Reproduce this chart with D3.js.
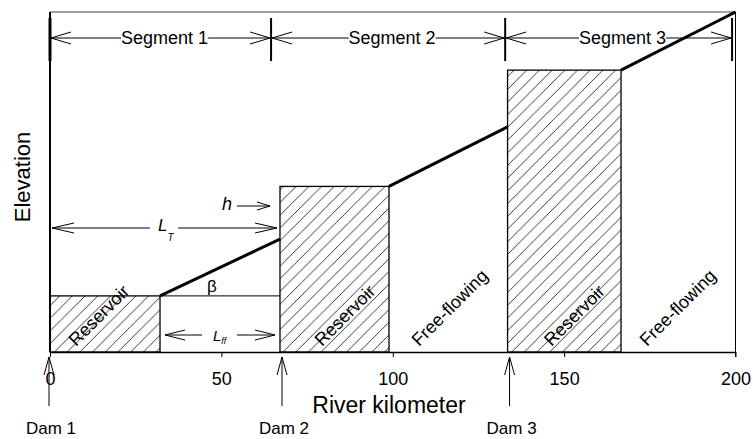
<!DOCTYPE html>
<html><head><meta charset="utf-8">
<script src="https://cdn.jsdelivr.net/npm/d3@7"></script>
<style>
body{margin:0;background:#fff}
svg{display:block}
text{font-family:"Liberation Sans",Arial,sans-serif;fill:#000}
</style>
</head><body>
<svg id="chart" width="753" height="439"></svg>
<script>
// River profile with three dams, their reservoirs and free-flowing reaches
const kmTicks = [0, 50, 100, 150, 200];
const damKm = [0, 67.1, 133.5];
const damNames = ["Dam 1", "Dam 2", "Dam 3"];
const reservoirEndKm = [32.1, 98.9, 166.6];
const reservoirTopElev = [16.5, 48.7, 82.9];
const freeEndKm = [67.1, 133.5, 200];
const freeEndElev = [33.2, 66.2, 100];
const segmentKm = [0, 64.5, 132.8, 199];
const segmentNames = ["Segment 1", "Segment 2", "Segment 3"];
const zoneNames = ["Reservoir", "Free-flowing"];

const svg = d3.select("#chart");
const x = d3.scaleLinear([0, 200], [50, 735.5]);
const y = d3.scaleLinear([0, 100], [352, 12]);

// diagonal hatching for reservoirs
const hs = 12.7;
svg.append("defs").append("pattern")
  .attr("id", "hatch").attr("patternUnits", "userSpaceOnUse")
  .attr("width", hs).attr("height", hs)
  .append("path")
  .attr("d", `M${-hs/2},${hs/2}L${hs/2},${-hs/2}M0,${hs}L${hs},0M${hs/2},${hs*1.5}L${hs*1.5},${hs/2}`)
  .attr("stroke", "#222").attr("stroke-width", 0.9);

// open V arrowhead at (tx,ty) pointing in direction (ux,uy)
function head(g, tx, ty, ux, uy, len, half) {
  const px = -uy, py = ux;
  return g.append("path")
    .attr("d", `M${tx - ux*len + px*half},${ty - uy*len + py*half}L${tx},${ty}L${tx - ux*len - px*half},${ty - uy*len - py*half}`)
    .attr("fill", "none").attr("stroke", "#000").attr("stroke-width", 1);
}
function seg(g, x1, y1, x2, y2, w) {
  return g.append("line").attr("x1", x1).attr("y1", y1).attr("x2", x2).attr("y2", y2)
    .attr("stroke", "#000").attr("stroke-width", w || 1);
}

const g = svg.append("g");

// frame
seg(g, x(0), y(100), x(200), y(100), 1).attr("stroke", "#444");
seg(g, x(200), y(100), x(200), y(0) + 5, 1);

// reservoirs
damKm.forEach((d, i) => {
  g.append("rect")
    .attr("x", x(d)).attr("y", y(reservoirTopElev[i]))
    .attr("width", x(reservoirEndKm[i]) - x(d))
    .attr("height", y(0) - y(reservoirTopElev[i]))
    .attr("fill", "url(#hatch)").attr("stroke", "#000").attr("stroke-width", 1.3);
});

// reference line for the slope angle
seg(g, x(reservoirEndKm[0]), y(reservoirTopElev[0]), x(damKm[1]), y(reservoirTopElev[0]), 1);

// free-flowing river profile
freeEndKm.forEach((e, i) => {
  g.append("line")
    .attr("x1", x(reservoirEndKm[i])).attr("y1", y(reservoirTopElev[i]))
    .attr("x2", x(e)).attr("y2", y(freeEndElev[i]))
    .attr("stroke", "#000").attr("stroke-width", 3);
});

// x axis
const ax = svg.append("g").attr("transform", `translate(0,${y(0)})`)
  .call(d3.axisBottom(x).tickValues(kmTicks).tickSize(5).tickSizeOuter(0).tickPadding(15));
ax.select(".domain").attr("stroke-width", 1.5);
ax.selectAll("text").attr("font-size", 18).attr("font-family", '"Liberation Sans",Arial,sans-serif');

// y axis line
seg(g, x(0), y(100), x(0), y(0), 2);

// axis titles
svg.append("text").attr("x", 389).attr("y", 413).attr("text-anchor", "middle")
  .attr("font-size", 23).text("River kilometer");
svg.append("text").attr("transform", "translate(30,177) rotate(-90)").attr("text-anchor", "middle")
  .attr("font-size", 22).text("Elevation");

// segment spans across the top
const sy = 38;
segmentKm.forEach((k, i) => {
  seg(g, x(k), 18, x(k), 61, i === 0 ? 3 : 2);
});
segmentNames.forEach((name, i) => {
  const x0 = x(segmentKm[i]), x1 = x(segmentKm[i + 1]);
  const t = g.append("text").attr("x", (x0 + x1) / 2 + 4).attr("y", 44)
    .attr("text-anchor", "middle").attr("font-size", 18).text(name);
  const b = t.node().getBBox();
  seg(g, x0, sy, b.x, sy, 1);
  seg(g, b.x + b.width, sy, x1, sy, 1);
  head(g, x0 + 1, sy, -1, 0, 20, 6);
  head(g, x1 - 1, sy, 1, 0, 20, 6);
});

// zone labels inside reservoirs and free-flowing reaches
const zoneOffsets = [[26, 42, 44], [30, 26]];
damKm.forEach((d, i) => {
  g.append("text")
    .attr("transform", `translate(${x(d) + zoneOffsets[0][i]},347) rotate(-45)`)
    .attr("font-size", 18).text(zoneNames[0]);
});
[1, 2].forEach((i, j) => {
  g.append("text")
    .attr("transform", `translate(${x(reservoirEndKm[i]) + zoneOffsets[1][j]},347) rotate(-45)`)
    .attr("font-size", 18).text(zoneNames[1]);
});

// h: dam height marker
const hy = 206;
g.append("text").attr("x", 227).attr("y", 210).attr("text-anchor", "middle")
  .attr("font-size", 18).attr("font-style", "italic").text("h");
seg(g, 237, hy, x(damKm[1]) - 10, hy, 1);
head(g, x(damKm[1]) - 10, hy, 1, 0, 13, 4);

// L_T: segment length
const ly = 228;
seg(g, x(0) + 2, ly, 150, ly, 1);
seg(g, 178, ly, x(damKm[1]) - 3, ly, 1);
head(g, x(0) + 2, ly, -1, 0, 22, 5);
head(g, x(damKm[1]) - 3, ly, 1, 0, 22, 5);
const lt = g.append("text").attr("x", 158).attr("y", 231).attr("font-size", 17).attr("font-style", "italic");
lt.append("tspan").text("L");
lt.append("tspan").attr("font-size", 10).attr("dy", 10).text("T");

// L_ff: free-flowing length
const fy = 335;
seg(g, x(reservoirEndKm[0]) + 5, fy, 202, fy, 1);
seg(g, 237, fy, x(damKm[1]) - 5, fy, 1);
head(g, x(reservoirEndKm[0]) + 5, fy, -1, 0, 20, 5);
head(g, x(damKm[1]) - 5, fy, 1, 0, 20, 5);
const lf = g.append("text").attr("x", 213).attr("y", 341).attr("font-size", 15).attr("font-style", "italic");
lf.append("tspan").text("L");
lf.append("tspan").attr("font-size", 9).attr("dy", 3).text("ff");

// slope angle
g.append("text").attr("x", 212).attr("y", 292).attr("text-anchor", "middle")
  .attr("font-size", 17).attr("font-family", '"Liberation Serif","Times New Roman",serif').text("β");

// dam markers below the axis
const damArrowDx = [-1, 2, 2];
damKm.forEach((d, i) => {
  const ax0 = x(d) + damArrowDx[i];
  seg(g, ax0, 357, ax0, 406, 1);
  head(g, ax0, 357, 0, -1, 18, 5);
  g.append("text").attr("x", ax0 + 2).attr("y", 434).attr("text-anchor", "middle")
    .attr("font-size", 17).text(damNames[i]);
});
</script>
</body></html>
